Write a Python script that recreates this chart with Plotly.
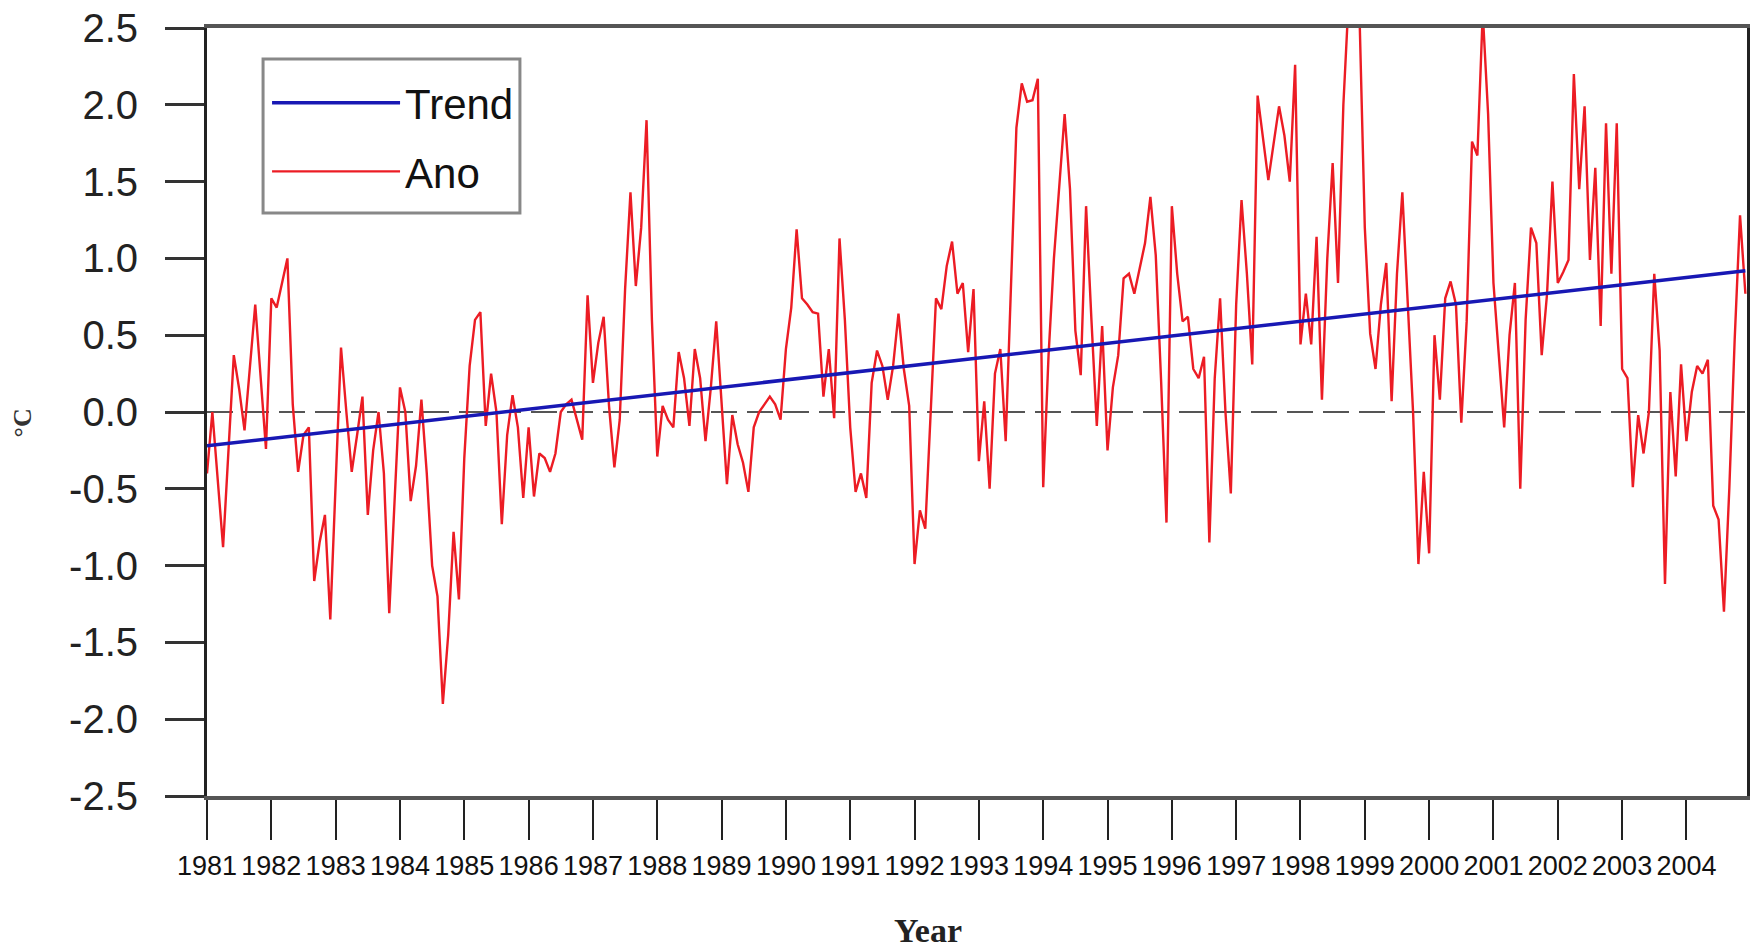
import plotly.graph_objects as go

# ---- data ----
year_labels = ["1981", "1982", "1983", "1984", "1985", "1986", "1987", "1988",
               "1989", "1990", "1991", "1992", "1993", "1994", "1995", "1996",
               "1997", "1998", "1999", "2000", "2001", "2002", "2003", "2004"]
tick_months = [0, 12, 24, 36, 48, 60, 72, 84, 96, 108, 120, 132,
               144, 156, 168, 180, 192, 204, 216, 228, 240, 252, 264, 276]

y_ticks = [-2.5, -2.0, -1.5, -1.0, -0.5, 0.0, 0.5, 1.0, 1.5, 2.0, 2.5]
y_tick_labels = ["-2.5", "-2.0", "-1.5", "-1.0", "-0.5", "0.0", "0.5", "1.0", "1.5", "2.0", "2.5"]

# month index since Jan 1981
months = [
    0, 1, 3, 5, 6, 7, 9, 10, 11, 12, 13, 15, 16, 17, 18, 19, 20, 21, 22, 23,
    25, 26, 27, 28, 29, 30, 31, 32, 33, 34, 35, 36, 37, 38, 39, 40, 41, 42, 43, 44,
    45, 46, 47, 48, 49, 50, 51, 52, 53, 54, 55, 56, 57, 58, 59, 60, 61, 62, 63, 64,
    65, 66, 67, 68, 69, 70, 71, 72, 73, 74, 75, 76, 77, 78, 79, 80, 81, 82, 83, 84,
    85, 86, 87, 88, 89, 90, 91, 92, 93, 94, 95, 96, 97, 98, 99, 100, 101, 102, 103, 104,
    105, 106, 107, 108, 109, 110, 111, 112, 113, 114, 115, 116, 117, 118, 119, 120, 121, 122, 123, 124,
    125, 126, 127, 128, 129, 130, 131, 132, 133, 134, 135, 136, 137, 138, 139, 140, 141, 142, 143, 144,
    145, 146, 147, 148, 149, 150, 151, 152, 153, 154, 155, 156, 157, 158, 159, 160, 161, 162, 163, 164,
    165, 166, 167, 168, 169, 170, 171, 172, 173, 174, 175, 176, 177, 178, 179, 180, 181, 182, 183, 184,
    185, 186, 187, 188, 189, 190, 191, 192, 193, 194, 195, 196, 197, 198, 199, 200, 201, 202, 203, 204,
    205, 206, 207, 208, 209, 210, 211, 212, 213, 214, 215, 216, 217, 218, 219, 220, 221, 222, 223, 224,
    225, 226, 227, 228, 229, 230, 231, 232, 233, 234, 235, 236, 237, 238, 239, 240, 241, 242, 243, 244,
    245, 246, 247, 248, 249, 250, 251, 252, 253, 254, 255, 256, 257, 258, 259, 260, 261, 262, 263, 264,
    265, 266, 267, 268, 269, 270, 271, 272, 273, 274, 275, 276, 277, 278, 279, 280, 281, 282, 283, 284,
    285, 286, 287,
]
anomaly = [
    -0.40, 0.00, -0.88, 0.37, 0.15, -0.12, 0.70, 0.22, -0.24, 0.74, 0.68, 1.00, 0.05, -0.39, -0.15, -0.10, -1.10, -0.85, -0.67, -1.35,
    0.42, 0.00, -0.39, -0.15, 0.10, -0.67, -0.25, 0.00, -0.40, -1.31, -0.60, 0.16, 0.00, -0.58, -0.35, 0.08, -0.40, -1.00, -1.20, -1.90,
    -1.45, -0.78, -1.22, -0.30, 0.30, 0.60, 0.65, -0.09, 0.25, 0.00, -0.73, -0.15, 0.11, -0.10, -0.56, -0.10, -0.55, -0.27, -0.30, -0.39,
    -0.27, 0.00, 0.05, 0.08, -0.05, -0.18, 0.76, 0.19, 0.45, 0.62, 0.04, -0.36, -0.05, 0.80, 1.43, 0.82, 1.20, 1.90, 0.60, -0.29,
    0.04, -0.05, -0.10, 0.39, 0.22, -0.09, 0.41, 0.22, -0.19, 0.16, 0.59, 0.04, -0.47, -0.02, -0.21, -0.33, -0.52, -0.10, 0.00, 0.05,
    0.10, 0.05, -0.05, 0.41, 0.68, 1.19, 0.74, 0.70, 0.65, 0.64, 0.10, 0.41, -0.04, 1.13, 0.60, -0.10, -0.52, -0.40, -0.56, 0.19,
    0.40, 0.30, 0.08, 0.30, 0.64, 0.28, 0.04, -0.99, -0.64, -0.76, 0.00, 0.74, 0.67, 0.95, 1.11, 0.77, 0.84, 0.39, 0.80, -0.32,
    0.07, -0.50, 0.25, 0.41, -0.19, 0.84, 1.85, 2.14, 2.02, 2.03, 2.17, -0.49, 0.37, 1.00, 1.50, 1.94, 1.45, 0.53, 0.24, 1.34,
    0.60, -0.09, 0.56, -0.25, 0.16, 0.37, 0.87, 0.90, 0.77, 0.93, 1.10, 1.40, 1.02, 0.20, -0.72, 1.34, 0.90, 0.59, 0.62, 0.28,
    0.22, 0.36, -0.85, 0.22, 0.74, 0.00, -0.53, 0.70, 1.38, 0.90, 0.31, 2.06, 1.80, 1.51, 1.75, 1.99, 1.80, 1.50, 2.26, 0.44,
    0.77, 0.44, 1.14, 0.08, 1.00, 1.62, 0.84, 2.00, 2.70, 2.70, 2.60, 1.20, 0.51, 0.28, 0.70, 0.97, 0.07, 0.90, 1.43, 0.76,
    0.00, -0.99, -0.39, -0.92, 0.50, 0.08, 0.74, 0.85, 0.70, -0.07, 0.59, 1.76, 1.67, 2.60, 1.94, 0.84, 0.40, -0.10, 0.50, 0.84,
    -0.50, 0.60, 1.20, 1.10, 0.37, 0.77, 1.50, 0.84, 0.91, 0.99, 2.20, 1.45, 1.99, 0.99, 1.59, 0.56, 1.88, 0.90, 1.88, 0.28,
    0.22, -0.49, -0.02, -0.27, 0.00, 0.90, 0.40, -1.12, 0.13, -0.42, 0.31, -0.19, 0.13, 0.30, 0.25, 0.34, -0.61, -0.70, -1.30, -0.50,
    0.47, 1.28, 0.77,
]
assert len(months) == len(anomaly)

trend_months = [0, 287]
trend_values = [-0.22, 0.92]

# ---- figure ----
fig = go.Figure()
fig.add_trace(go.Scatter(
    x=months, y=anomaly, mode="lines", name="Ano",
    line=dict(color="#ec1c24", width=2.4), legendgroup="b", legendrank=2,
))
fig.add_trace(go.Scatter(
    x=trend_months, y=trend_values, mode="lines", name="Trend",
    line=dict(color="#1818b4", width=3.5), legendgroup="a", legendrank=1,
))

fig.add_hline(y=0, line=dict(color="#555555", width=2, dash="26px,10px"), layer="below")

# legend frame
fig.add_shape(type="rect", xref="paper", yref="paper",
              x0=0.0364, x1=0.2032, y0=0.7591, y1=0.9596,
              line=dict(color="#888888", width=3), fillcolor="white", layer="above")

fig.update_layout(
    width=1755, height=951,
    margin=dict(l=207, r=8, t=28, b=155, autoexpand=False),
    paper_bgcolor="white", plot_bgcolor="white",
    showlegend=True,
    legend=dict(
        x=0.039, y=0.9466, xanchor="left", yanchor="top",
        borderwidth=0, bgcolor="rgba(0,0,0,0)",
        font=dict(family="Liberation Sans, Arial, sans-serif", size=42, color="#111"),
        itemwidth=128, traceorder="grouped", tracegroupgap=11,
    ),
    xaxis=dict(
        range=[0, 287.3], tickmode="array", tickvals=tick_months, ticktext=year_labels,
        tickangle=0, automargin=False,
        ticks="outside", ticklen=40, tickwidth=2, tickcolor="#222",
        showline=True, linecolor="#555", linewidth=4, mirror=True,
        showgrid=False, zeroline=False,
        tickfont=dict(family="Liberation Sans, Arial, sans-serif", size=27, color="#111"),
        ticklabelstandoff=3,
    ),
    yaxis=dict(
        range=[-2.5, 2.5], tickmode="array", tickvals=y_ticks, ticktext=y_tick_labels,
        automargin=False, ticklabeloverflow="allow",
        ticks="outside", ticklen=39, tickwidth=3, tickcolor="#333",
        showline=True, linecolor="#222", linewidth=3, mirror=True,
        showgrid=False, zeroline=False,
        tickfont=dict(family="Liberation Sans, Arial, sans-serif", size=40, color="#222"),
        ticklabelstandoff=19,
    ),
    annotations=[
        dict(text="<b>Year</b>", xref="paper", yref="paper", x=0.468, y=-0.2018,
             xanchor="center", yanchor="bottom", showarrow=False,
             font=dict(family="Liberation Serif, Times New Roman, serif", size=34, color="#222")),
        dict(text="<b>°C</b>", xref="paper", yref="paper", x=-0.1198, y=0.4857,
             xanchor="center", yanchor="middle", showarrow=False, textangle=-90,
             font=dict(family="Liberation Serif, Times New Roman, serif", size=26, color="#333")),
    ],
)

fig.write_html(
    "out.html",
    config={"displayModeBar": False},
    post_script="document.body.style.margin='0';document.body.style.overflow='hidden';",
)
